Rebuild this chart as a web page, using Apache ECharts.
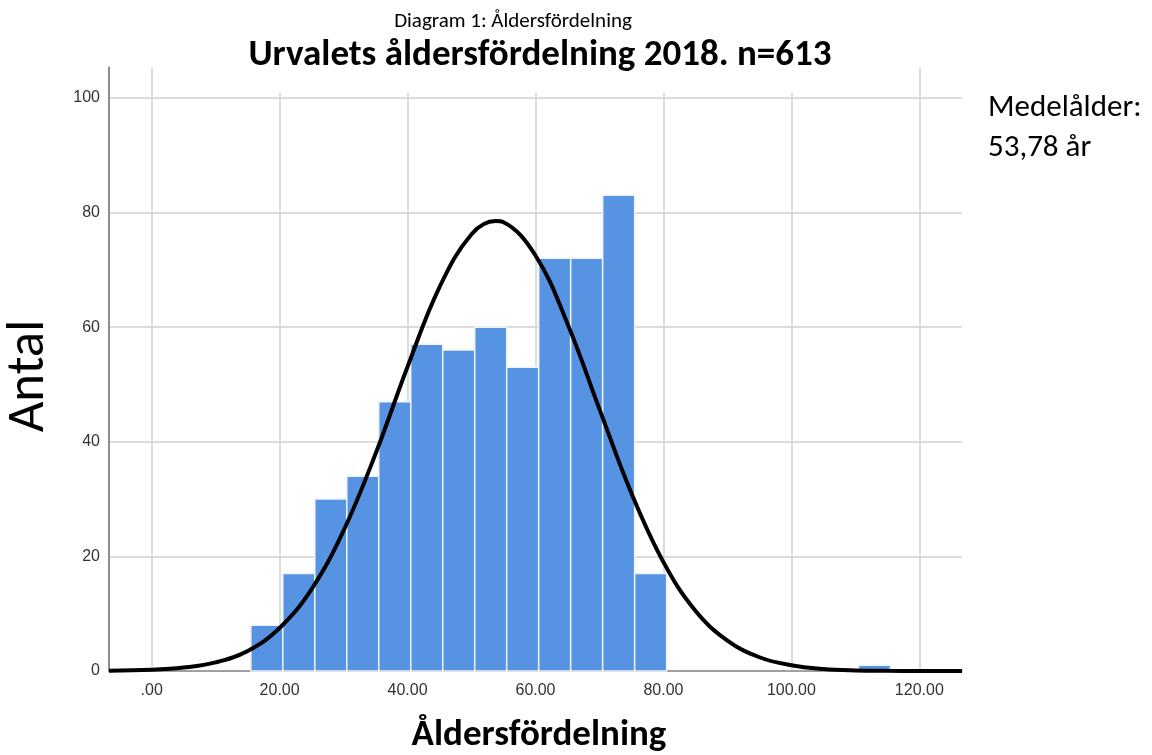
<!DOCTYPE html>
<html>
<head>
<meta charset="utf-8">
<title>Åldersfördelning</title>
<script src="https://cdn.jsdelivr.net/npm/echarts@6/dist/echarts.min.js"></script>
<style>
  html, body { margin: 0; padding: 0; background: #fff; }
  #chart { width: 1152px; height: 755px; }
</style>
</head>
<body>
<div id="chart"></div>
<script>
// histogram bins (age, width 5), only non-empty ones
const binStarts = [15.5, 20.5, 25.5, 30.5, 35.5, 40.5, 45.5, 50.5, 55.5, 60.5, 65.5, 70.5, 75.5, 110.5];
const binWidth = 5;
const counts = [8, 17, 30, 34, 47, 57, 56, 60, 53, 72, 72, 83, 17, 1];

// fitted normal curve
const curveX = [-6.67, 0, 5, 10, 15, 20, 25, 30, 35, 40, 45, 50, 53.78, 55, 60, 65, 70, 75, 80, 85, 90, 95, 100, 105, 110, 115, 120, 126.67];
const curveY = [0.05, 0.2, 0.6, 1.5, 3.5, 7.5, 14.3, 24.5, 37.9, 53.1, 67, 76.2, 78.5, 78.3, 72.5, 60.6, 45.7, 31, 19, 10.5, 5.3, 2.4, 1, 0.35, 0.1, 0.03, 0.01, 0];

const xTicks = [0, 20, 40, 60, 80, 100, 120];
const yTicks = [0, 20, 40, 60, 80, 100];

const font = "Calibri, Carlito, Lato, sans-serif";
const tickFont = "Liberation Sans, Arial, sans-serif";

const chart = echarts.init(document.getElementById("chart"));

const barData = binStarts.map((s, i) => [s, s + binWidth, counts[i]]);
const curveData = curveX.map((x, i) => [x, curveY[i]]);

// text helper for the graphic component
function label(text, x, y, size, opts) {
  opts = opts || {};
  return {
    type: "text",
    x: x,
    y: y,
    rotation: opts.rotation || 0,
    z: 100,
    style: {
      text: text,
      font: (opts.bold ? "bold " : "") + size + "px " + font,
      fill: "#000",
      textAlign: opts.align || "center",
      align: opts.align || "center",
      textVerticalAlign: "middle",
      verticalAlign: "middle",
    },
  };
}

chart.setOption({
  animation: false,
  grid: { left: 109, right: 190, top: 67.5, bottom: 84 },
  xAxis: {
    type: "value",
    min: -6.67,
    max: 126.67,
    splitNumber: 6,
    axisLine: { show: true, lineStyle: { color: "#8c8c8c", width: 1.5 } },
    axisTick: { show: false },
    axisLabel: {
      margin: 12,
      color: "#333",
      fontSize: 16,
      fontFamily: tickFont,
      showMinLabel: false,
      showMaxLabel: false,
      formatter: (v) => {
        if (xTicks.indexOf(Math.round(v * 100) / 100) < 0) return "";
        return v === 0 ? ".00" : v.toFixed(2);
      },
    },
    splitLine: {
      show: true,
      showMinLine: false,
      showMaxLine: false,
      lineStyle: { color: "#d0d0d0", width: 1.5 },
    },
  },
  yAxis: {
    type: "value",
    min: 0,
    max: 105.3,
    interval: 20,
    axisLine: { show: true, onZero: false, lineStyle: { color: "#8c8c8c", width: 2 } },
    axisTick: { show: false },
    axisLabel: {
      margin: 9,
      color: "#333",
      fontSize: 16,
      fontFamily: tickFont,
      formatter: (v) => (yTicks.indexOf(v) < 0 ? "" : String(v)),
    },
    splitLine: {
      show: true,
      showMaxLine: false,
      lineStyle: { color: "#d0d0d0", width: 1.5 },
    },
  },
  graphic: [
    // white box behind the titles hides the top of the grid lines
    { type: "rect", z: 99, shape: { x: 200, y: 0, width: 660, height: 93 }, style: { fill: "#fff" } },
    label("Diagram 1: Åldersfördelning", 513, 22, 21),
    label("Urvalets åldersfördelning 2018. n=613", 540, 55.5, 37, { bold: true }),
    label("Åldersfördelning", 539, 735.5, 37, { bold: true }),
    label("Antal", 29.5, 376, 53, { rotation: Math.PI / 2 }),
    label("Medelålder:", 988, 108, 31, { align: "left" }),
    label("53,78 år", 988, 148, 31, { align: "left" }),
  ],
  series: [
    {
      type: "custom",
      data: barData,
      encode: { x: [0, 1], y: 2 },
      renderItem: (params, api) => {
        const p0 = api.coord([api.value(0), api.value(2)]);
        const p1 = api.coord([api.value(1), 0]);
        return {
          type: "rect",
          shape: { x: p0[0], y: p0[1], width: p1[0] - p0[0], height: p1[1] - p0[1] },
          style: { fill: "#5694e3", stroke: "#eef4fc", lineWidth: 1.5 },
        };
      },
      z: 2,
    },
    {
      type: "line",
      data: curveData,
      smooth: 0.4,
      showSymbol: false,
      clip: false,
      lineStyle: { color: "#000", width: 4 },
      z: 3,
    },
  ],
});

window.addEventListener("resize", () => chart.resize());
</script>
</body>
</html>
